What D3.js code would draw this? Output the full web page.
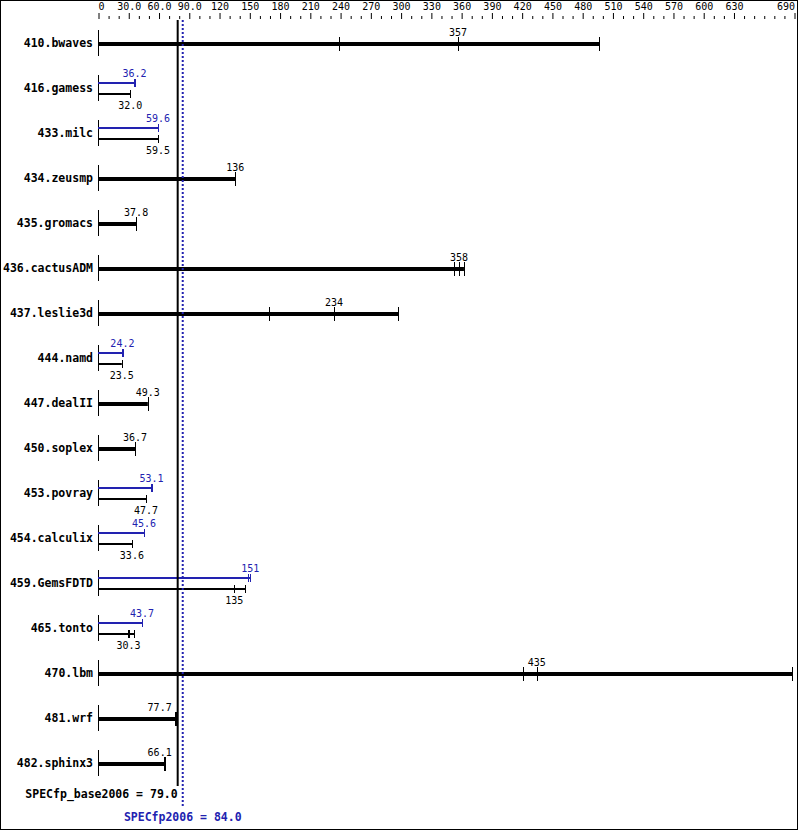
<!DOCTYPE html>
<html>
<head>
<meta charset="utf-8">
<script src="https://cdn.jsdelivr.net/npm/d3@7"></script>
<style>
  body { margin: 0; background: #fff; }
  svg { display: block; }
  text { font-family: "DejaVu Sans Mono", "Liberation Mono", monospace; }
  .name, .summary { font-weight: bold; font-size: 11.5px; }
  .val, .tick text { font-size: 10px; }
</style>
</head>
<body>
<div class="chart"></div>
<script>
// benchmark names, one row each
const benchmarks = ['410.bwaves', '416.gamess', '433.milc', '434.zeusmp', '435.gromacs',
  '436.cactusADM', '437.leslie3d', '444.namd', '447.dealII', '450.soplex', '453.povray',
  '454.calculix', '459.GemsFDTD', '465.tonto', '470.lbm', '481.wrf', '482.sphinx3'];

// the three runs of each benchmark (median is the middle one)
const baseRuns = [
  [239, 357, 497], [31.8, 32.0, 32.1], [59.2, 59.5, 59.9], [135.5, 136, 136.3],
  [37.6, 37.8, 37.9], [352.5, 358, 362.8], [169.8, 234, 297.7], [23.4, 23.5, 23.6],
  [49.1, 49.3, 49.4], [36.5, 36.7, 36.8], [47.5, 47.7, 47.8], [33.5, 33.6, 33.7],
  [134.8, 135, 146], [30.1, 30.3, 35.7], [421.6, 435, 688.3], [76.1, 77.7, 77.8],
  [65.9, 66.1, 66.2]
];
const peakRuns = [
  null, [36.0, 36.2, 36.3], [59.4, 59.6, 59.7], null,
  null, null, null, [24.1, 24.2, 24.3],
  null, null, [53.0, 53.1, 53.5], [45.4, 45.6, 45.8],
  [149.1, 151, 151.1], [43.5, 43.7, 43.9], null, null,
  null
];
const baseLabels = ['357', '32.0', '59.5', '136', '37.8', '358', '234', '23.5', '49.3',
  '36.7', '47.7', '33.6', '135', '30.3', '435', '77.7', '66.1'];
const peakLabels = [null, '36.2', '59.6', null, null, null, null, '24.2', null,
  null, '53.1', '45.6', '151', '43.7', null, null, null];

const baseScore = 79.0;
const peakScore = 84.0;

// axis ticks
const majorTicks = d3.range(0, 631, 30).concat([690]);
const majorLabels = ['0', '30.0', '60.0', '90.0', '120', '150', '180', '210', '240', '270',
  '300', '330', '360', '390', '420', '450', '480', '510', '540', '570', '600', '630', '690'];
const minorTicks = d3.range(0, 691, 10).filter(v => majorTicks.indexOf(v) < 0);

const WIDTH = 799;
const HEIGHT = 831;
const BLUE = '#2222b0';

const svg = d3.select('.chart').append('svg')
  .attr('width', WIDTH)
  .attr('height', HEIGHT);

svg.append('rect')
  .attr('x', 0.5).attr('y', 0.5)
  .attr('width', WIDTH - 2).attr('height', HEIGHT - 2)
  .attr('fill', '#fff').attr('stroke', '#000');

const x = d3.scaleLinear().domain([0, 690]).range([98, 794]);
const y = d3.scaleBand().domain(benchmarks).range([20.5, 785.5]);
const cy = d => Math.round(y(d) + y.bandwidth() / 2);
const px = v => Math.round(x(v)) + 0.5;

// top axis: minor then major ticks
svg.append('g')
  .attr('class', 'axis minor')
  .attr('transform', 'translate(0.5,19)')
  .call(d3.axisTop(x).tickValues(minorTicks).tickSize(3).tickFormat(''))
  .call(g => g.select('.domain').remove());

svg.append('g')
  .attr('class', 'axis major')
  .attr('transform', 'translate(0.5,19)')
  .call(d3.axisTop(x).tickValues(majorTicks).tickSize(6).tickPadding(3)
    .tickFormat((d, i) => majorLabels[i]))
  .call(g => g.select('.domain').remove())
  .call(g => g.selectAll('text').attr('fill', '#000')
    .attr('text-anchor', (d, i) => i === 0 ? 'start' : (i === majorTicks.length - 1 ? 'end' : 'middle'))
    .attr('dx', (d, i) => i === 0 ? -0.5 : 0));

const refX = x(baseScore);

// label placement, pushed left of the base line if it would touch it
function labelX(v, txt) {
  const w = txt.length * 6.02;
  const c = x(v);
  if (c + w / 2 > refX - 3 && c - w / 2 < refX + 3) return refX - 6 - w / 2;
  return c;
}

const rows = svg.append('g').attr('class', 'rows');

benchmarks.forEach((name, i) => {
  const yc = cy(name);
  const g = rows.append('g');

  g.append('text')
    .attr('class', 'name')
    .attr('x', 93).attr('y', yc + 4)
    .attr('text-anchor', 'end')
    .text(name);

  g.append('line')
    .attr('x1', px(0)).attr('x2', px(0))
    .attr('y1', yc - 13).attr('y2', yc + 13)
    .attr('stroke', '#000');

  const drawSet = (runs, yy, color, thick, label, labelY) => {
    g.append('line')
      .attr('x1', x(0)).attr('x2', x(d3.max(runs)))
      .attr('y1', yy).attr('y2', yy)
      .attr('stroke', color)
      .attr('stroke-width', thick ? 4 : 2);
    const h = thick ? 7 : 4;
    g.selectAll(null).data(runs).enter().append('line')
      .attr('x1', d => px(d)).attr('x2', d => px(d))
      .attr('y1', yy - h).attr('y2', yy + h)
      .attr('stroke', color);
    g.append('text')
      .attr('class', 'val')
      .attr('x', labelX(runs[1], label))
      .attr('y', labelY)
      .attr('text-anchor', 'middle')
      .attr('fill', color)
      .text(label);
  };

  if (peakRuns[i]) {
    drawSet(peakRuns[i], yc - 5, BLUE, false, peakLabels[i], yc - 11);
    drawSet(baseRuns[i], yc + 6, '#000', false, baseLabels[i], yc + 21);
  } else {
    drawSet(baseRuns[i], yc + 1, '#000', true, baseLabels[i], yc - 7);
  }
});

// reference lines
svg.append('line')
  .attr('x1', refX).attr('x2', refX)
  .attr('y1', 20).attr('y2', 786)
  .attr('stroke', '#000').attr('stroke-width', 2);

svg.append('line')
  .attr('x1', x(peakScore)).attr('x2', x(peakScore))
  .attr('y1', 20).attr('y2', 808)
  .attr('stroke', BLUE).attr('stroke-width', 2)
  .attr('stroke-dasharray', '2,2');

svg.append('text')
  .attr('class', 'summary')
  .attr('x', refX).attr('y', 798)
  .attr('text-anchor', 'end')
  .text('SPECfp_base2006 = ' + baseScore.toFixed(1));

svg.append('text')
  .attr('class', 'summary')
  .attr('x', x(peakScore)).attr('y', 821)
  .attr('text-anchor', 'middle')
  .attr('fill', BLUE)
  .text('SPECfp2006 = ' + peakScore.toFixed(1));
</script>
</body>
</html>
